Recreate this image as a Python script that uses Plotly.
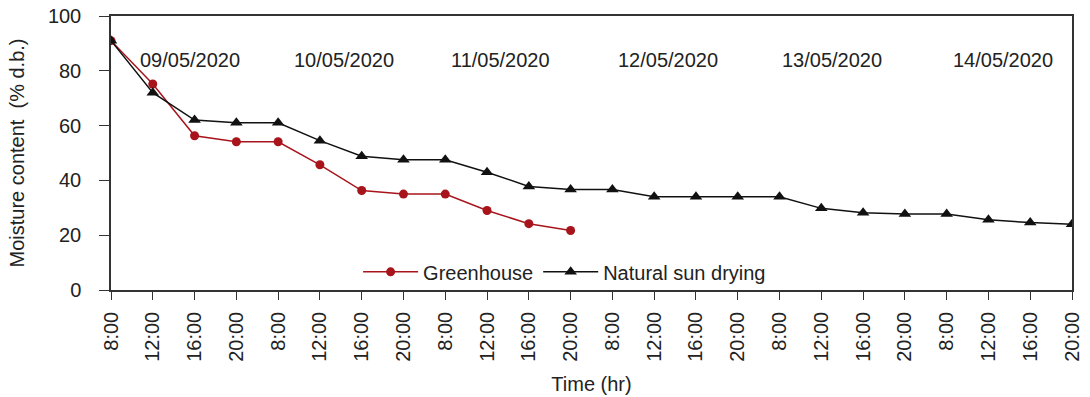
import plotly.graph_objects as go

time_labels = ["8:00", "12:00", "16:00", "20:00"] * 6
greenhouse = [91, 75.2, 56.3, 54.1, 54.1, 45.7, 36.3, 35.0, 35.0, 29.0, 24.2, 21.7]
natural_sun = [91, 72, 62, 61, 61, 54.5, 48.8, 47.5, 47.5, 43, 37.8, 36.7,
               36.7, 34, 34, 34, 34, 29.8, 28.2, 27.7, 27.7, 25.6, 24.6, 24]
dates = ["09/05/2020", "10/05/2020", "11/05/2020", "12/05/2020", "13/05/2020", "14/05/2020"]
date_x = [1.89, 5.58, 9.31, 13.33, 17.26, 21.35]
date_y = 84

font_family = "Liberation Sans, Arial, sans-serif"
txt = "#222222"

fig = go.Figure()
fig.add_trace(go.Scatter(
    x=list(range(len(greenhouse))), y=greenhouse, name="Greenhouse",
    mode="lines+markers",
    line=dict(color="#A8141C", width=1.5),
    marker=dict(symbol="circle", size=9, color="#A8141C"),
))
fig.add_trace(go.Scatter(
    x=list(range(len(natural_sun))), y=natural_sun, name="Natural sun drying",
    mode="lines+markers",
    line=dict(color="#111111", width=1.5),
    marker=dict(symbol="triangle-up", size=11, color="#111111"),
))

for d, xv in zip(dates, date_x):
    fig.add_annotation(x=xv, y=date_y, text=d, showarrow=False,
                       font=dict(size=20, color=txt, family=font_family),
                       xanchor="center", yanchor="middle")

fig.update_layout(
    width=1090, height=397,
    margin=dict(l=111, r=18, t=16, b=107),
    plot_bgcolor="white", paper_bgcolor="white",
    font=dict(family=font_family, color=txt, size=20),
    showlegend=True,
    legend=dict(orientation="h", x=0.472, y=-0.005, xanchor="center", yanchor="bottom",
                bgcolor="rgba(0,0,0,0)", font=dict(size=20, color=txt),
                itemwidth=55, tracegroupgap=0),
)
fig.update_xaxes(
    range=[0, 23], tickmode="array", tickvals=list(range(len(time_labels))),
    ticktext=time_labels, tickangle=-90, ticks="outside", ticklen=8,
    tickcolor="#333", showline=True, linecolor="#333", linewidth=1.5,
    mirror=True, showgrid=False, zeroline=False, ticklabelstandoff=4,
    automargin=False,
    title=dict(text="Time (hr)", font=dict(size=20), standoff=16),
    tickfont=dict(size=20),
)
fig.update_yaxes(
    range=[0, 100], tickvals=[0, 20, 40, 60, 80, 100], ticks="outside", ticklen=10,
    tickcolor="#333", showline=True, linecolor="#333", linewidth=1.5,
    mirror=True, showgrid=False, zeroline=False, ticklabelstandoff=14,
    automargin=False,
    title=dict(text="Moisture content  (% d.b.)", font=dict(size=20), standoff=18),
    tickfont=dict(size=20),
)

fig.write_html("out.html")
